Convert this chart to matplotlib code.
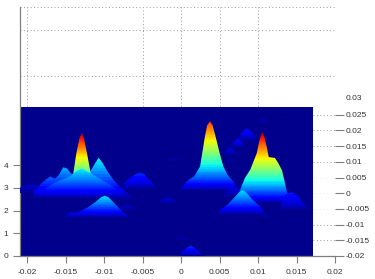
import numpy as np
import matplotlib
matplotlib.use("Agg")
import matplotlib.pyplot as plt
from matplotlib.patches import Polygon

plt.rcParams['font.family'] = ['Liberation Sans', 'DejaVu Sans']

# tick values
x_ticks = [-0.02, -0.015, -0.01, -0.005, 0, 0.005, 0.01, 0.015, 0.02]
x_labels = ['-0.02', '-0.015', '-0.01', '-0.005', '0', '0.005', '0.01', '0.015', '0.02']
z_ticks = [0, 1, 2, 3, 4]
y_ticks = [-0.02, -0.015, -0.01, -0.005, 0, 0.005, 0.01, 0.015, 0.02, 0.025]
y_labels = ['-0.02', '-0.015', '-0.01', '-0.005', '0', '0.005', '0.01', '0.015', '0.02', '0.025']
y_top_value = 0.03
y_top_label = '0.03'
grid_x = [-0.02, -0.005, 0, 0.005, 0.01, 0.02]
grid_z = [7.91, 9.93, 10.95]
grid_right_y = [-0.015, -0.01, 0.01, 0.015, 0.02, 0.025]
grid_right_faint_y = [-0.005, 0, 0.005]

# ridge outlines: x in thousandths, apparent height on the left axis
chain1_x = [11.3, 11.8, 12.2, 12.7, 13.1]; chain1_top = [6.2, 6.32, 6.38, 6.32, 6.2]
chain2_x = [9.6, 10.0, 10.5, 10.9, 11.3]; chain2_top = [5.75, 5.95, 6.05, 5.95, 5.75]
chain3_x = [7.3, 7.8, 8.5, 9.2, 9.9]; chain3_top = [5.1, 5.4, 5.62, 5.45, 5.1]
chain4_x = [6.4, 6.9, 7.4, 7.9, 8.3]; chain4_top = [4.8, 5.05, 5.15, 5.05, 4.8]
chain5_x = [5.5, 5.9, 6.4, 6.9, 7.3]; chain5_top = [4.43, 4.68, 4.78, 4.68, 4.43]
chain6_x = [5.5, 6.0, 6.4, 6.9, 7.3]; chain6_top = [4.05, 4.2, 4.27, 4.2, 4.05]
midpeak_x = [-0.2, 0.4, 0.95, 1.7, 2.47, 2.8, 3.1, 3.4, 3.77, 4.1, 4.5, 5.0, 5.5, 6.0, 6.4, 6.9, 7.2]
midpeak_top = [2.9, 3.15, 3.34, 3.5, 3.93, 4.6, 5.24, 5.75, 5.92, 5.75, 5.24, 4.55, 3.93, 3.6, 3.43, 3.25, 2.95]
blob_a_x = [5.5, 6.2, 7.0, 7.7, 8.3]; blob_a_top = [2.75, 2.95, 3.02, 2.95, 2.75]
rpeak_x = [7.2, 7.66, 8.3, 9.0, 9.83, 10.2, 10.56, 10.85, 11.13, 11.4, 11.8, 12.2, 12.6, 13.1, 13.4, 13.7, 14.1]
rpeak_top = [2.5, 2.9, 3.43, 3.8, 4.51, 5.1, 5.46, 5.2, 4.8, 4.35, 4.33, 4.31, 4.1, 3.78, 3.35, 2.9, 2.5]
rside_x = [13.0, 13.6, 14.4, 15.0, 15.6, 16.2, 16.7]; rside_top = [2.3, 2.72, 2.8, 2.7, 2.45, 2.2, 1.95]
rfront_x = [4.6, 5.07, 6.0, 7.0, 7.6, 8.0, 8.4, 9.2, 10.3, 11.0]
rfront_top = [1.85, 2.02, 2.25, 2.6, 2.82, 2.9, 2.82, 2.5, 2.17, 1.85]
blob_b_x = [9.8, 10.4, 10.9, 11.5, 12.0]; blob_b_top = [1.65, 1.78, 1.82, 1.78, 1.65]
farleft_x = [-20.9, -20.2, -19.2, -18.3, -17.5]; farleft_top = [3.0, 3.12, 3.15, 3.05, 2.85]
cluster_x = [-19.2, -18.4, -17.6, -17.0, -16.4, -15.9, -15.3, -14.8, -14.2, -13.0, -12.0, -11.2, -10.7, -10.2, -9.6, -9.0, -8.4, -7.8, -7.2, -6.8]
cluster_top = [2.8, 3.1, 3.35, 3.5, 3.4, 3.55, 3.9, 3.85, 3.6, 3.5, 3.6, 4.05, 4.32, 4.1, 3.75, 3.45, 3.2, 3.0, 2.85, 2.7]
lpeak_x = [-14.6, -14.0, -13.6, -13.2, -12.9, -12.6, -12.2, -11.7, -11.1]
lpeak_top = [3.0, 3.6, 4.5, 5.15, 5.42, 5.15, 4.5, 3.6, 3.0]
clfront_x = [-18.6, -17.5, -16.5, -15.5, -14.5, -13.6, -12.9, -12.2, -11.3, -10.3, -9.3, -8.3, -7.4]
clfront_top = [2.75, 3.0, 3.2, 3.35, 3.5, 3.72, 3.85, 3.72, 3.55, 3.35, 3.15, 2.9, 2.65]
blob_c_x = [-8.8, -8.0, -7.3, -6.6, -6.0]; blob_c_top = [2.55, 2.72, 2.75, 2.65, 2.45]
midhill_x = [-7.4, -6.6, -5.8, -5.3, -4.8, -4.0, -3.3, -2.9]
midhill_top = [3.2, 3.45, 3.62, 3.67, 3.6, 3.3, 3.05, 2.85]
blob_d_x = [-2.8, -2.2, -1.7, -1.1, -0.5]; blob_d_top = [2.4, 2.53, 2.57, 2.5, 2.35]
blob_e_x = [-1.9, -1.4, -1.0, -0.5, 0.0]; blob_e_top = [4.2, 4.3, 4.33, 4.3, 4.15]
blob_f_x = [-8.6, -7.8, -7.0, -6.2, -5.4]; blob_f_top = [2.0, 2.2, 2.27, 2.2, 2.0]
lfront_x = [-15.2, -14.4, -13.5, -12.2, -11.2, -10.4, -9.9, -9.4, -8.6, -7.6, -7.0, -6.6]
lfront_top = [1.72, 1.92, 1.9, 2.12, 2.35, 2.58, 2.65, 2.58, 2.3, 1.95, 1.8, 1.68]
blob_g_x = [-1.2, -0.4, 0.0, 0.6, 1.2]; blob_g_top = [0.7, 0.82, 0.87, 0.82, 0.7]
bottom_x = [-0.3, 0.3, 0.8, 1.3, 1.9, 2.5, 3.0]; bottom_top = [0.0, 0.22, 0.38, 0.45, 0.33, 0.15, 0.0]

ridges_x = [chain1_x, chain2_x, chain3_x, chain4_x, chain5_x, chain6_x, midhill_x, blob_e_x,
            farleft_x, cluster_x, lpeak_x, clfront_x, blob_c_x, blob_d_x, blob_f_x, lfront_x,
            midpeak_x, blob_a_x, rpeak_x, rside_x, rfront_x, blob_b_x, blob_g_x, bottom_x]
ridges_top = [chain1_top, chain2_top, chain3_top, chain4_top, chain5_top, chain6_top, midhill_top, blob_e_top,
              farleft_top, cluster_top, lpeak_top, clfront_top, blob_c_top, blob_d_top, blob_f_top, lfront_top,
              midpeak_top, blob_a_top, rpeak_top, rside_top, rfront_top, blob_b_top, blob_g_top, bottom_top]
ridges_base = [6.15, 5.7, 5.05, 4.75, 4.38, 4.0, 2.85, 4.1,
               2.75, 2.45, 2.75, 2.5, 2.4, 2.25, 1.9, 1.65,
               2.85, 2.6, 2.33, 1.93, 1.8, 1.55, 0.6, 0.0]
ridges_low = [0.0, 0.0, 0.02, 0.02, 0.02, 0.01, 0.01, 0.01,
              0.02, 0.01, 0.12, 0.02, 0.01, 0.01, 0.01, 0.02,
              0.02, 0.02, 0.03, 0.01, 0.02, 0.01, 0.01, 0.03]
ridges_high = [0.05, 0.07, 0.16, 0.14, 0.11, 0.05, 0.18, 0.06,
               0.09, 0.38, 0.95, 0.37, 0.09, 0.10, 0.07, 0.36,
               0.84, 0.10, 0.95, 0.16, 0.36, 0.05, 0.06, 0.19]

W, H = 375, 279
fig = plt.figure(figsize=(W / 100, H / 100), dpi=100, facecolor='white')
ax = fig.add_axes([19.5 / W, 1 - 256 / H, (335 - 19.5) / W, (256 - 7) / H])
ax.set_xlim((19.5 - 181) / 7700, (335 - 181) / 7700)
ax.set_ylim(0, 249 / 22.75)
ax.set_autoscale_on(False)
ax.patch.set_visible(False)

grey = '#7f7f7f'
for s in ('top', 'right'):
    ax.spines[s].set_visible(False)
for s in ('left', 'bottom'):
    ax.spines[s].set_color(grey)
    ax.spines[s].set_linewidth(0.9)

dot = dict(color='#9a9a9a', lw=0.7, ls=(0, (1, 2.5)), zorder=1)
ax.vlines(grid_x, 0, 249 / 22.75, **dot)
ax.hlines(grid_z, ax.get_xlim()[0], 0.02, **dot)

cmap = matplotlib.colormaps['jet'].resampled(40)
img_x0, img_x1 = -20.9e-3, 17.14e-3
img_top = 6.55
ax.fill_between([img_x0, img_x1], 0, img_top, color=(0, 0, 0.55), lw=0, zorder=2)

for xs, tops, base, low, high in zip(ridges_x, ridges_top, ridges_base, ridges_low, ridges_high):
    xr = np.array(xs) * 1e-3
    tr = np.array(tops)
    peak = tr.max()
    grad = (low + (high - low) * np.linspace(0, 1, 96) ** 0.85).reshape(-1, 1)
    im = ax.imshow(grad, extent=(xr.min(), xr.max(), base, peak), origin='lower', aspect='auto',
                   cmap=cmap, vmin=0, vmax=1, interpolation='bilinear', zorder=3)
    pts = list(zip(xr, tr)) + [(xr[-1], base), (xr[0], base)]
    poly = Polygon(pts, closed=True, transform=ax.transData, fc='none', ec='none')
    ax.add_patch(poly)
    im.set_clip_path(poly)

ax.set_xlim((19.5 - 181) / 7700, (335 - 181) / 7700)
ax.set_ylim(0, 249 / 22.75)
ax.set_xticks(x_ticks, x_labels)
ax.set_yticks(z_ticks, [str(v) for v in z_ticks])
ax.tick_params(axis='both', length=5.3, width=0.8, color=grey, labelsize=6, labelcolor='#333333', pad=3)
ax.tick_params(axis='x', pad=4)

rx = ax.twinx()
rx.set_ylim(-0.02, -0.02 + 249 / 3140)
rx.patch.set_visible(False)
for s in rx.spines.values():
    s.set_visible(False)
rx.set_yticks(y_ticks, y_labels)
rx.tick_params(axis='y', length=6.5, width=0.8, color=grey, labelsize=6, labelcolor='#333333', pad=1)
trans = rx.get_yaxis_transform()
rx.text(1.0, y_top_value, y_top_label, transform=trans, fontsize=6, color='#333333',
        va='center', ha='left').set_x(1.0 + 10.3 / (335 - 19.5))
frac = (img_x1 - ax.get_xlim()[0]) / (ax.get_xlim()[1] - ax.get_xlim()[0])
rx.hlines(grid_right_y, frac, 1, transform=trans, color='#9a9a9a', lw=0.7, ls=(0, (1, 2.5)))
rx.hlines(grid_right_faint_y, frac, 1, transform=trans, color='#eeeeee', lw=0.7, ls=(0, (1, 2.5)))

fig.savefig('out.png', dpi=100)
